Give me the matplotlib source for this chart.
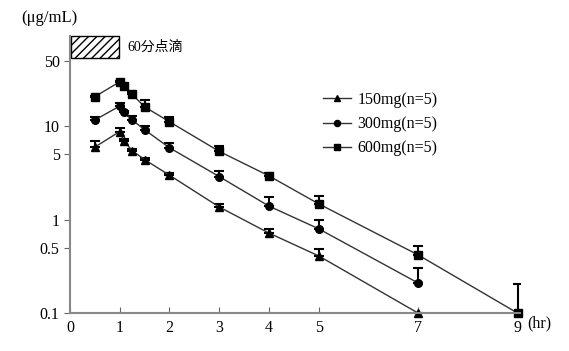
import matplotlib.pyplot as plt
import matplotlib.patches as mpatches
from matplotlib.lines import Line2D

# Data (time in hr, concentration in ug/mL)
t = [0.5, 1.0, 1.083, 1.25, 1.5, 2, 3, 4, 5, 7, 9]

c150 = [6.0, 8.8, 7.0, 5.5, 4.4, 3.0, 1.37, 0.72, 0.41, 0.1]
e150 = [1.0, 0.7, 0.3, 0.2, 0.2, 0.2, 0.1, 0.07, 0.08, 0.0]

c300 = [11.7, 16.5, 14.1, 11.7, 9.2, 5.9, 2.9, 1.4, 0.8, 0.21]
e300 = [1.0, 1.2, 0.5, 1.2, 0.9, 0.8, 0.45, 0.35, 0.2, 0.095]

c600 = [20.8, 30.0, 27.2, 22.0, 16.2, 11.2, 5.4, 2.95, 1.48, 0.42, 0.1]
e600 = [0.5, 0.8, 0.6, 1.2, 2.9, 1.5, 0.8, 0.25, 0.32, 0.1, 0.107]

labels = ['150mg(n=5)', '300mg(n=5)', '600mg(n=5)']
xticks = [0, 1, 2, 3, 4, 5, 7, 9]
yticks = [0.1, 0.5, 1, 5, 10, 50]
yticklabels = ['0.1', '0.5', '1', '5', '10', '50']

plt.rcParams['font.family'] = ['Liberation Serif', 'Noto Sans CJK JP']

fig = plt.figure(figsize=(5.69, 3.51), dpi=100)
ax = fig.add_axes([0.123, 0.108, 0.791, 0.789])

lc = '#333333'
series = [(c150, e150, '^', 6), (c300, e300, 'o', 5.5), (c600, e600, 's', 6)]
for c, e, m, ms in series:
    x = t[:len(c)]
    eb = ax.errorbar(x, c, yerr=[[0] * len(c), e], fmt='-', color=lc, lw=1,
                     marker=m, ms=ms, mfc='black', mec='black',
                     ecolor='black', elinewidth=1.5, capsize=3.5, capthick=1.5)
    eb[0].set_clip_on(False)

ax.set_yscale('log')
ax.set_xlim(0, 9.05)
ax.set_ylim(0.1, 92.5)

ax.set_xticks(xticks)
ax.set_xticklabels([str(v) for v in xticks])
ax.set_yticks(yticks)
ax.set_yticklabels(yticklabels)
ax.minorticks_off()
ax.tick_params(axis='x', direction='in', length=4, color='#666666', labelsize=11.5, pad=5)
ax.tick_params(axis='y', direction='out', length=4, color='#666666', labelsize=11.5)

for s in ['top', 'right']:
    ax.spines[s].set_visible(False)
for s in ['left', 'bottom']:
    ax.spines[s].set_color('#888888')
    ax.spines[s].set_linewidth(1.5)

# infusion box
ax.add_patch(mpatches.Rectangle((0.02, 54), 0.96, 39, fill=False, hatch='////',
                                edgecolor='black', lw=1, clip_on=False))
ax.text(1.15, 70, '60分点滴', fontsize=10, va='center', ha='left')

fig.text(0.038, 0.948, '(μg/mL)', fontsize=12, va='center', ha='left')
ax.text(9.2, 0.094, '(hr)', fontsize=11.5, va='top', ha='left', clip_on=False)

handles = [Line2D([], [], color=lc, lw=1, marker=m, ms=ms * 0.8, mfc='black', mec='black')
           for _, _, m, ms in series]
ax.legend(handles, labels, loc='upper left', bbox_to_anchor=(0.547, 0.822),
          frameon=False, fontsize=11.5, handlelength=1.8, labelspacing=0.52,
          handletextpad=0.4, borderaxespad=0)

fig.savefig('out.png', dpi=100)
